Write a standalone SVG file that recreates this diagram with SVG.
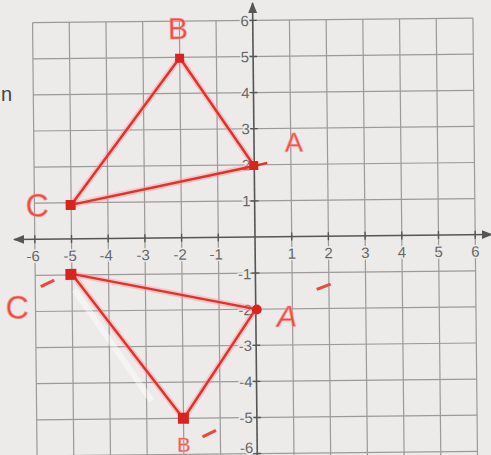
<svg xmlns="http://www.w3.org/2000/svg" width="491" height="455" viewBox="0 0 491 455">
<defs>
<style>
.grid{stroke:#9a9a98;stroke-width:1.2;fill:none}
.axis{stroke:#555;stroke-width:1.6;fill:none}
.tick{stroke:#555;stroke-width:1.4}
.lbl{font-family:"Liberation Sans",Arial,sans-serif;font-size:15px;fill:#666;stroke:#ecebea;stroke-width:3;paint-order:stroke;text-anchor:middle}
.ylbl{text-anchor:end}
.glow{stroke:#ff9a9a;stroke-width:6;stroke-opacity:0.45;fill:none;stroke-linejoin:round}
.seg{stroke:#e3302c;stroke-width:2.4;fill:none;stroke-linejoin:round}
.pt{fill:#d8231f}
.hand{font-family:"Liberation Sans",Arial,sans-serif;fill:#ec4a40;stroke:#ff9a9a;stroke-width:1;stroke-opacity:0.6}
.dash{font-family:"Liberation Sans",Arial,sans-serif;fill:#ec4a40;font-weight:bold;font-size:30px}
</style>
<marker id="arr" viewBox="0 0 10 10" refX="9" refY="5" markerWidth="7" markerHeight="7" orient="auto-start-reverse"><path d="M0,1 L10,5 L0,9 z" fill="#555"/></marker>
</defs>
<rect width="491" height="455" fill="#ecebea"/>
<text x="1" y="101" font-family="Liberation Sans,Arial,sans-serif" font-size="20" fill="#444">n</text>
<g transform="rotate(-0.6 255 237)">
<g id="grid">
<path class="grid" d="M34.8,20.4V460 M71.5,20.4V460 M108.2,20.4V460 M144.9,20.4V460 M181.6,20.4V460 M218.3,20.4V460 M291.7,20.4V460 M328.4,20.4V460 M365.1,20.4V460 M401.8,20.4V460 M438.5,20.4V460 M475.2,20.4V460"/>
<path class="grid" d="M34.8,20.4H475.2 M34.8,56.5H475.2 M34.8,92.6H475.2 M34.8,128.7H475.2 M34.8,164.8H475.2 M34.8,200.9H475.2 M34.8,273.1H475.2 M34.8,309.2H475.2 M34.8,345.3H475.2 M34.8,381.4H475.2 M34.8,417.5H475.2 M34.8,453.6H475.2"/>
</g>
<g id="axes">
<line class="axis" x1="14" y1="237" x2="492" y2="237" marker-start="url(#arr)" marker-end="url(#arr)"/>
<line class="axis" x1="255" y1="3" x2="255" y2="460" marker-start="url(#arr)"/>
<path class="tick" d="M34.8,233V241 M71.5,233V241 M108.2,233V241 M144.9,233V241 M181.6,233V241 M218.3,233V241 M291.7,233V241 M328.4,233V241 M365.1,233V241 M401.8,233V241 M438.5,233V241 M475.2,233V241 M251,20.4H259 M251,56.5H259 M251,92.6H259 M251,128.7H259 M251,164.8H259 M251,200.9H259 M251,273.1H259 M251,309.2H259 M251,345.3H259 M251,381.4H259 M251,417.5H259 M251,453.6H259"/>
</g>
<g id="xlabels">
<text class="lbl" x="33" y="259">-6</text>
<text class="lbl" x="70" y="259">-5</text>
<text class="lbl" x="106" y="259">-4</text>
<text class="lbl" x="143" y="259">-3</text>
<text class="lbl" x="180" y="259">-2</text>
<text class="lbl" x="216" y="259">-1</text>
<text class="lbl" x="291.7" y="259">1</text>
<text class="lbl" x="328.4" y="259">2</text>
<text class="lbl" x="365.1" y="259">3</text>
<text class="lbl" x="401.8" y="259">4</text>
<text class="lbl" x="438.5" y="259">5</text>
<text class="lbl" x="475.2" y="259">6</text>
</g>
<g id="ylabels">
<text class="lbl ylbl" x="251" y="26">6</text>
<text class="lbl ylbl" x="251" y="62">5</text>
<text class="lbl ylbl" x="251" y="98">4</text>
<text class="lbl ylbl" x="251" y="134">3</text>
<text class="lbl ylbl" x="251" y="170">2</text>
<text class="lbl ylbl" x="251" y="206">1</text>
<text class="lbl ylbl" x="251" y="279">-1</text>
<text class="lbl ylbl" x="251" y="315">-2</text>
<text class="lbl ylbl" x="251" y="351">-3</text>
<text class="lbl ylbl" x="251" y="387">-4</text>
<text class="lbl ylbl" x="251" y="423">-5</text>
<text class="lbl ylbl" x="251" y="453" font-size="13">-6</text>
</g>
<path d="M74,288 L150,400" stroke="#ffffff" stroke-width="6" stroke-opacity="0.45" fill="none"/>
<g id="connectors">
<path class="glow" d="M255,166 L181.6,57 L71.5,203 Z"/>
<path class="seg" d="M255,166 L181.6,57 L71.5,203 Z"/>
<path class="seg" d="M255,166 L268,163"/>
<path class="glow" d="M255,309.2 L181.6,418 L71.5,272 Z"/>
<path class="seg" d="M255,309.2 L181.6,418 L71.5,272 Z"/>
</g>
<g id="node-A"><rect class="pt" x="250" y="161" width="9" height="9"/><text class="hand" x="286" y="152" font-size="27">A</text></g>
<g id="node-B"><rect class="pt" x="177" y="53" width="9" height="9"/><text class="hand" x="170" y="38" font-size="30">B</text></g>
<g id="node-C"><rect class="pt" x="66" y="198" width="10" height="10"/><text class="hand" x="26" y="214" font-size="32">C</text></g>
<g id="node-A2"><circle class="pt" cx="256" cy="309.5" r="5"/><text class="hand" x="276" y="327" font-size="30" font-style="italic">A</text><text class="dash" x="318" y="298" rotate="-20">–</text></g>
<g id="node-B2"><rect class="pt" x="176" y="412" width="11" height="11"/><text class="hand" x="175" y="451" font-size="20">B</text><text class="dash" x="203" y="444" rotate="-25">–</text></g>
<g id="node-C2"><rect class="pt" x="65" y="267" width="11" height="11"/><text class="hand" x="5" y="316" font-size="32">C</text><text class="dash" x="43" y="292" rotate="-25">–</text></g>
</g>
</svg>
